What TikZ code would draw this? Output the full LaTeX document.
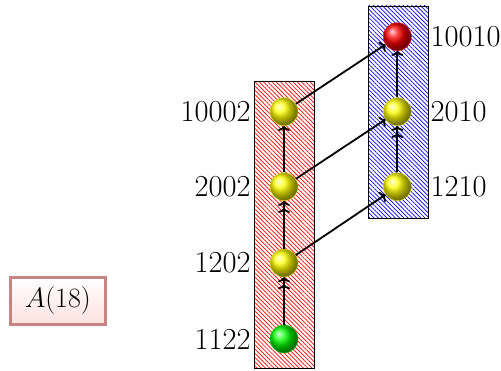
\documentclass[tikz,border=0pt]{standalone}
\usepackage{fix-cm}
\usetikzlibrary{arrows.meta,positioning,patterns.meta}
\tikzstyle{sphere} = [circle, minimum size=28pt, inner sep=0pt, thin]
\tikzstyle{lbl} = [inner sep=2pt, font=\fontsize{30.5}{36}\selectfont]
\tikzstyle{column} = [draw=black, line width=0.8pt, pattern={Lines[angle=-45,distance=3pt,line width=0.7pt]}]
\tikzstyle{one} = [-{To[length=5pt,width=12pt]}]
\tikzstyle{two} = [-{To[length=5pt,width=12pt,sep=2pt] To[length=5pt,width=12pt]}]
\definecolor{boxborder}{RGB}{200,132,132}

\begin{document}
\begin{tikzpicture}[x=1pt,y=1pt]
        \useasboundingbox (0,0) rectangle (501,370);
        \path[column, pattern color=red] (254,1.7) rectangle (314,288.3);
        \path[column, pattern color=blue] (368,151.7) rectangle (428,364);
        \node[sphere, ball color=green, draw=green!80!black] (A) at (284,31) {};
        \node[sphere, ball color=yellow, draw=yellow!90!black] (B) at (284,107) {};
        \node[sphere, ball color=yellow, draw=yellow!90!black] (C) at (284,183.3) {};
        \node[sphere, ball color=yellow, draw=yellow!90!black] (D) at (284,258.3) {};
        \node[sphere, ball color=yellow, draw=yellow!90!black] (E) at (397.3,183.3) {};
        \node[sphere, ball color=yellow, draw=yellow!90!black] (F) at (397.3,258.3) {};
        \node[sphere, ball color=red, draw=red] (G) at (397.3,333.3) {};
        \node[lbl, left=17pt of A] (LA) {1122};
        \node[lbl, left=17pt of B] (LB) {1202};
        \node[lbl, left=17pt of C] (LC) {2002};
        \node[lbl, left=17pt of D] (LD) {10002};
        \node[lbl, right=17pt of E] (LE) {1210};
        \node[lbl, right=17pt of F] (LF) {2010};
        \node[lbl, right=17pt of G] (LG) {10010};
        \node[draw=boxborder, line width=3pt, top color=white, bottom color=red!12, minimum width=95pt, minimum height=47pt, font=\fontsize{28}{33}\selectfont] (H) at (57.8,69) {$A(18)$};
        \begin{scope}[line width=1.8pt]
            \draw[two] (A) -- (B);
            \draw[two] (B) -- (C);
            \draw[one] (C) -- (D);
            \draw[two] (E) -- (F);
            \draw[one] (F) -- (G);
            \draw[one] (B) -- (E);
            \draw[one] (C) -- (F);
            \draw[one] (D) -- (G);
        \end{scope}
    \end{tikzpicture}
\end{document}
